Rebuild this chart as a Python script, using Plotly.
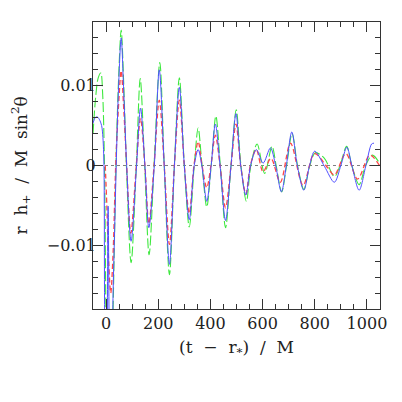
import plotly.graph_objects as go

# ---- data ----
blue_t = [-50, -42, -34, -26, -17, -12, -8, -4, 2, 8, 14, 21, 27, 33, 39, 47, 58, 68, 79, 96, 117, 132, 149, 164,
          185, 204, 223, 243, 262, 281, 300, 319, 338, 353, 367, 386, 403, 419, 437, 458, 479, 498, 516, 536,
          554, 576, 602, 630, 650, 672, 691, 712, 733, 758, 780, 800, 837, 875, 900, 923, 942, 970, 996, 1018, 1027]
blue_h = [0.0053, 0.0060, 0.0061, 0.0058, 0.0050, 0.0035, 0.0, -0.022, -0.026, -0.0051, -0.024, -0.028, -0.016,
          -0.008, 0.0, 0.009, 0.0160, 0.009, 0.0, -0.0095, 0.0, 0.0072, 0.0, -0.0078,
          0.0, 0.0120, 0.0, -0.0124, 0.0, 0.0098, 0.0, -0.0068, 0.0, 0.0020, 0.0, -0.0045, 0.0, 0.0052, 0.0,
          -0.0069, 0.0, 0.0065, 0.0, -0.0037,
          0.0, 0.0020, 0.0003, 0.0022, 0.0, -0.0033, 0.0, 0.0042, 0.0, -0.0031, 0.0, 0.0018, -0.0001, -0.0021,
          0.0, 0.0023, 0.0, -0.0031, 0.0, 0.0027, 0.0028]

red_t = [-3, 3, 10, 18, 27, 37, 47, 58, 68, 79, 95, 116, 132, 149, 164, 184, 204, 223, 243, 262, 281, 300, 319,
         337, 353, 368, 386, 402, 419, 437, 458, 479, 498, 516, 536, 553, 576, 602, 632, 668, 707, 755, 799,
         850, 875, 919, 964, 1011, 1048]
red_h = [0.0, -0.005, -0.012, -0.0160, -0.011, 0.0, 0.007, 0.0119, 0.007, 0.0, -0.0085, 0.0, 0.0059, 0.0,
         -0.0073, 0.0, 0.0082, 0.0, -0.0099, 0.0, 0.0082, 0.0, -0.0060,
         0.0, 0.0030, 0.0, -0.0028, 0.0, 0.0038, 0.0, -0.0053, 0.0, 0.0052, 0.0, -0.0036, 0.0, 0.0020, -0.0008,
         0.0009, -0.0021, 0.0028, -0.0025, 0.0015,
         -0.0003, -0.0012, 0.0015, -0.0017, 0.0013, 0.0]

green_t = [-50, -40, -30, -20, -13, -6, 0, 6, 13, 20, 27, 33, 38, 47, 58, 68, 78, 96, 116, 131, 148, 165, 184,
           206, 223, 243, 262, 281, 300, 319, 338, 353, 368, 386, 403, 421, 438, 458, 479, 499, 517, 538, 555,
           579, 608, 636, 652, 673, 692, 713, 734, 758, 781, 802, 837, 875, 897, 922, 942, 970, 995, 1021, 1048]
green_h = [0.0040, 0.0085, 0.0110, 0.0116, 0.0090, 0.0, -0.020, -0.030, -0.032, -0.028, -0.018, -0.008, 0.0,
           0.010, 0.0170, 0.010, 0.0, -0.0122, 0.0, 0.0109, 0.0, -0.0112, 0.0,
           0.0129, 0.0, -0.0137, 0.0, 0.0110, 0.0, -0.0077, 0.0, 0.0047, 0.0, -0.0052, 0.0, 0.0062, 0.0, -0.0078,
           0.0, 0.0070, 0.0, -0.0045, 0.0,
           0.0027, -0.0010, 0.0024, 0.0, -0.0033, 0.0, 0.0040, 0.0, -0.0030, 0.0, 0.0016, 0.0009, -0.0014, 0.0,
           0.0024, 0.0, -0.0024, 0.0, 0.0013, 0.0003]

x_range = [-50, 1050]
y_range = [-0.018, 0.018]

x_title = "(t  −  r<sub>*</sub>)  /  M"
y_title = "r  h<sub>+</sub>  /  M  sin<sup>2</sup>θ"

FONT = "DejaVu Serif"

fig = go.Figure()
fig.add_shape(type="line", xref="paper", x0=0, x1=1, yref="y", y0=0, y1=0,
              line=dict(color="#808080", width=1.2, dash="dot"), layer="below")
fig.add_trace(go.Scatter(x=green_t, y=green_h, mode="lines",
                         line=dict(color="#3ee83e", width=1.1, dash="10px,3px", shape="spline", smoothing=0.9)))
fig.add_trace(go.Scatter(x=red_t, y=red_h, mode="lines",
                         line=dict(color="#ff4848", width=1.3, dash="5px,3px", shape="spline", smoothing=0.9)))
fig.add_trace(go.Scatter(x=blue_t, y=blue_h, mode="lines",
                         line=dict(color="#5050ff", width=1.0, shape="spline", smoothing=0.9)))

axis_common = dict(showgrid=False, zeroline=False, showline=True, linecolor="#333333", linewidth=1,
                   mirror="allticks", ticks="inside", tickcolor="#333333", tickwidth=1, ticklen=10,
                   automargin=False,
                   tickfont=dict(family=FONT, size=16, color="#222222"))

fig.update_xaxes(range=x_range, tick0=0, dtick=200,
                 minor=dict(ticks="inside", dtick=50, ticklen=5, tickcolor="#333333", tickwidth=1),
                 title=dict(text=x_title, font=dict(family=FONT, size=17, color="#222222"), standoff=8),
                 **axis_common)
fig.update_yaxes(range=y_range, tick0=0, dtick=0.01, ticklabelstandoff=-7,
                 minor=dict(ticks="inside", dtick=0.002, ticklen=5, tickcolor="#333333", tickwidth=1),
                 **axis_common)

fig.add_annotation(text=y_title, xref="paper", yref="paper", x=0, y=0.5, xshift=-72,
                   xanchor="center", yanchor="middle", textangle=-90, showarrow=False, borderpad=0,
                   font=dict(family=FONT, size=17, color="#222222"))

# page body adds an 8px offset, so the margins are shifted to place the frame where the reference has it
fig.update_layout(width=402, height=402, margin=dict(l=84.5, r=30, t=14, b=101),
                  paper_bgcolor="white", plot_bgcolor="white", showlegend=False)

fig.write_html("out.html")
